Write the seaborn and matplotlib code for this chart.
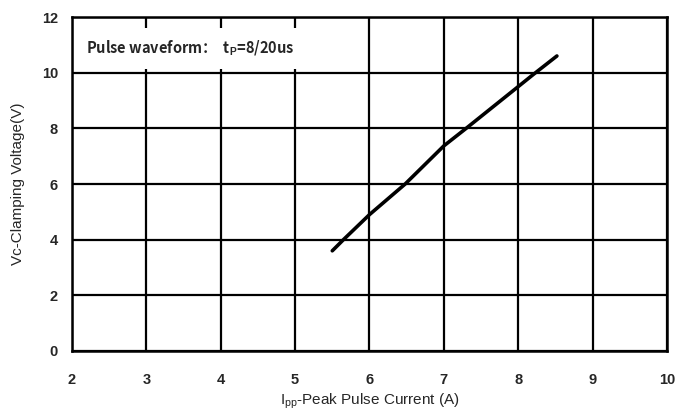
import matplotlib
matplotlib.use("Agg")
import matplotlib.pyplot as plt
import seaborn as sns
import pandas as pd

# Data
current = [5.50, 5.65, 6.00, 6.48, 7.00, 7.30, 8.00, 8.20, 8.52]
voltage = [3.60, 4.00, 4.90, 6.00, 7.37, 8.00, 9.50, 9.93, 10.60]
x_ticks = [2, 3, 4, 5, 6, 7, 8, 9, 10]
y_ticks = [0, 2, 4, 6, 8, 10, 12]

sns.set_style("white")
plt.rcParams['font.family'] = ['Liberation Sans', 'DejaVu Sans']
plt.rcParams['mathtext.fontset'] = 'custom'
plt.rcParams['mathtext.rm'] = 'Liberation Sans'
plt.rcParams['mathtext.bf'] = 'Liberation Sans:bold'

df = pd.DataFrame({"Ipp": current, "Vc": voltage})

fig = plt.figure(figsize=(6.77, 4.18), dpi=100)
ax = fig.add_axes([0.1063, 0.1603, 0.8789, 0.7990])

sns.lineplot(data=df, x="Ipp", y="Vc", ax=ax, color="black", linewidth=2.6,
             sort=False, estimator=None)

ax.set_xlim(2, 10)
ax.set_ylim(0, 12)
ax.set_xticks(x_ticks)
ax.set_yticks(y_ticks)
ax.grid(True, color="black", linewidth=1.6)
for s in ax.spines.values():
    s.set_color("black")
    s.set_linewidth(1.8)
ax.tick_params(axis="both", length=0, pad=10, labelsize=10.5)
for lab in ax.get_xticklabels() + ax.get_yticklabels():
    lab.set_fontweight("bold")
    lab.set_family(["Liberation Sans Narrow", "Liberation Sans", "DejaVu Sans"])
ax.tick_params(axis="x", pad=16)

ax.set_xlabel(r"I$_\mathregular{pp}$-Peak Pulse Current (A)", fontsize=11, labelpad=3)
ax.set_ylabel("Vc-Clamping Voltage(V)", fontsize=11, labelpad=12)

ax.text(0.024, 0.905, r"Pulse waveform：  t$_\mathbf{P}$=8/20us", transform=ax.transAxes,
        fontsize=10.5, fontweight="bold", va="center", ha="left", zorder=5,
        family=["Noto Sans CJK SC", "Liberation Sans", "DejaVu Sans"],
        bbox=dict(facecolor="white", edgecolor="none", boxstyle="square,pad=0.75"))

fig.savefig("out.png", dpi=100)
